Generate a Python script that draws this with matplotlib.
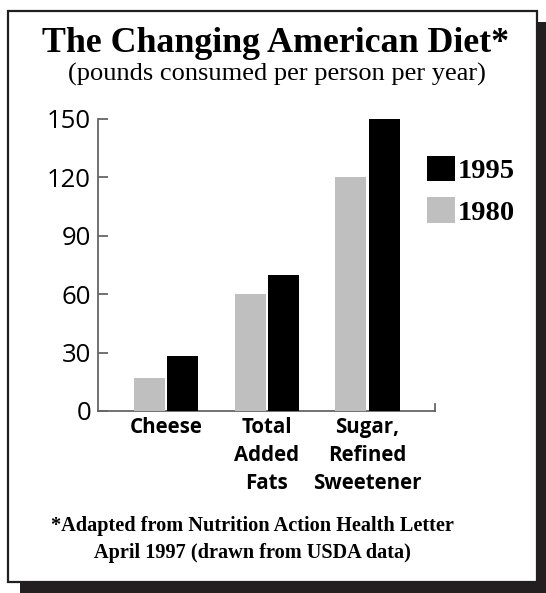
from matplotlib import pyplot as plt
from matplotlib.patches import Rectangle
import numpy as np

W, H = 546, 593
my_figsize = [W / 100, H / 100]

CATEGORIES = ['Cheese', 'Total\nAdded\nFats', 'Sugar,\nRefined\nSweetener']
YEARS = ['1980', '1995']
VALUES_1980 = [17, 60, 120]
VALUES_1995 = [28, 70, 150]
YTICKS = [0, 30, 60, 90, 120, 150]

TITLE = 'The Changing American Diet*'
SUBTITLE = '(pounds consumed per person per year)'
FOOTNOTE = '*Adapted from Nutrition Action Health Letter\nApril 1997 (drawn from USDA data)'

SERIF = 'Liberation Serif'
SANS = 'Open Sans'
AXIS_COLOR = '#666666'
BOX_COLOR = '#231f20'

WIDTH = 0.31  # bar width


def px(x, y):
    # pixel (from top-left) -> figure fraction
    return x / W, 1 - y / H


fig = plt.figure(figsize=my_figsize, dpi=100)

# drop shadow + framed box
sx, sy = px(20, 593)
fig.patches.append(Rectangle((sx, sy), 1 - sx, px(0, 22)[1] - sy, transform=fig.transFigure,
                             facecolor=BOX_COLOR, edgecolor='none', zorder=-3))
bx, by = px(8, 582)
fig.patches.append(Rectangle((bx, by), (537 - 8) / W, (582 - 11) / H, transform=fig.transFigure,
                             facecolor='white', edgecolor=BOX_COLOR, linewidth=1.6, zorder=-2))

left, bottom = px(98, 411)
right, top = px(435, 119)
ax = fig.add_axes([left, bottom, right - left, top - bottom])
ax.set_facecolor('none')
ax.set_zorder(2)

x = np.arange(len(CATEGORIES))
b80 = ax.bar(x - 0.165, VALUES_1980, WIDTH, color='#bfbfbf', label=YEARS[0], zorder=3)
b95 = ax.bar(x + 0.165, VALUES_1995, WIDTH, color='black', label=YEARS[1], zorder=3)

ax.set_xlim(-0.675, 2.67)
ax.set_ylim(0, 150)
ax.set_yticks(YTICKS)
ax.set_yticklabels([str(v) for v in YTICKS], fontsize=18.5, family=SANS)
ax.set_xticks(x)
ax.set_xticklabels(CATEGORIES, fontsize=14.8, family=SANS, fontweight='bold', linespacing=1.45)
ax.tick_params(axis='y', direction='in', length=7, width=1.3, color=AXIS_COLOR, pad=5)
ax.tick_params(axis='x', length=0, pad=4)

ax.spines['top'].set_visible(False)
for s in ['left', 'bottom', 'right']:
    ax.spines[s].set_color(AXIS_COLOR)
    ax.spines[s].set_linewidth(1.3)
ax.spines['right'].set_bounds(0, 3.5)

leg = ax.legend([b95, b80], [YEARS[1], YEARS[0]], loc='upper left',
                bbox_to_anchor=px(427, 156), bbox_transform=fig.transFigure,
                frameon=False, borderpad=0, borderaxespad=0,
                handlelength=0.97, handleheight=1.0,
                handletextpad=0.1, labelspacing=0.45,
                prop={'family': SERIF, 'weight': 'bold', 'size': 20.5})

fig.text(276 / W, px(0, 52)[1], TITLE, ha='center', va='baseline',
         family=SERIF, fontweight='bold', fontsize=25.8)
fig.text(277 / W, px(0, 81)[1], SUBTITLE, ha='center', va='baseline',
         family=SERIF, fontsize=19)
fig.text(252 / W, px(0, 558)[1], FOOTNOTE, ha='center', va='baseline', ma='center',
         family=SERIF, fontweight='bold', fontsize=14.6, linespacing=1.45)

fig.savefig('out.png', dpi=100)
